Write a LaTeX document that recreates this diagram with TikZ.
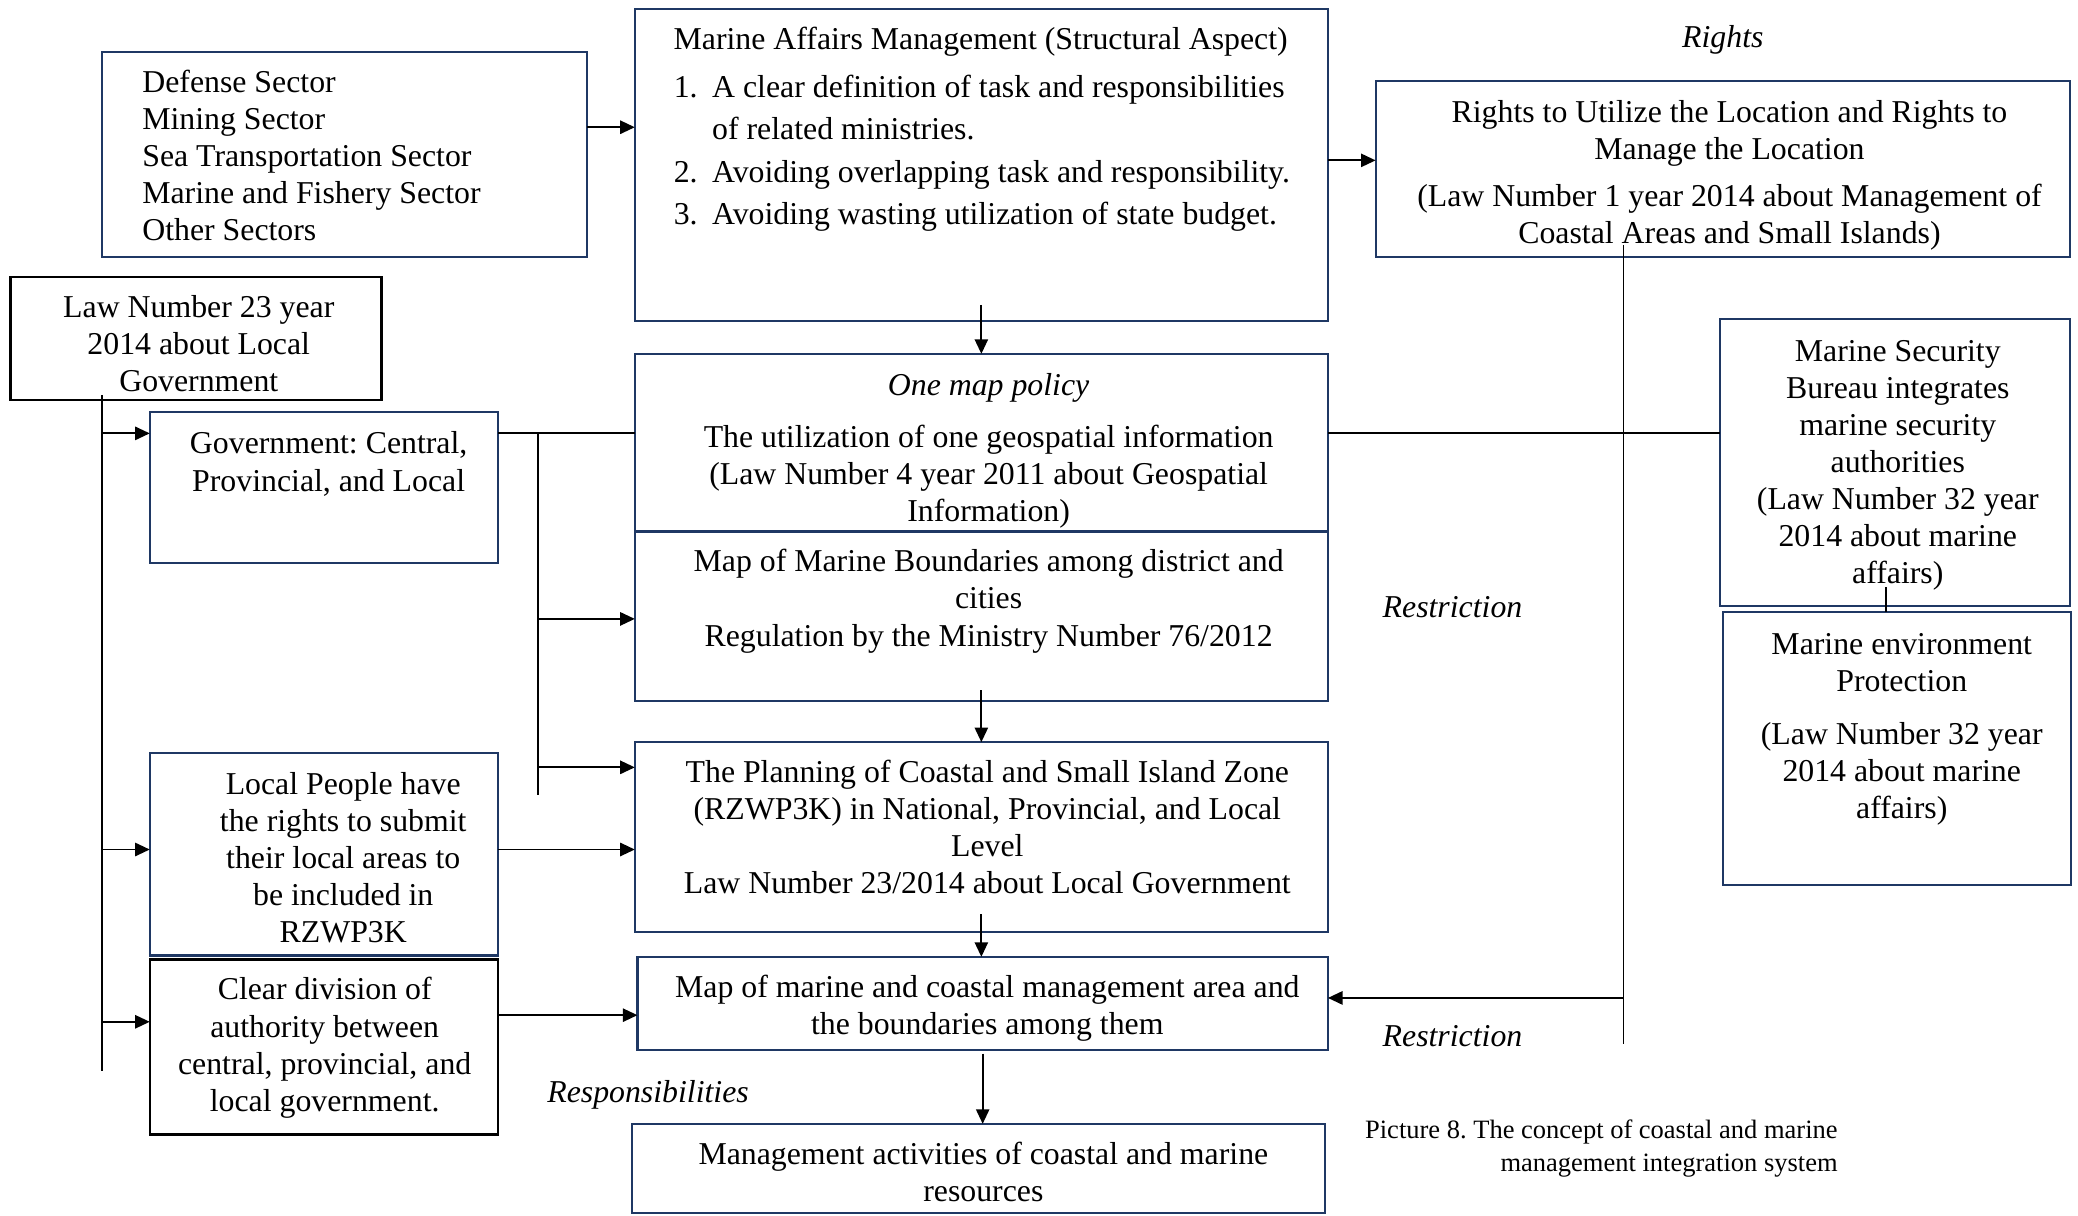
\documentclass[tikz,border=0pt]{standalone}
\usepackage{fontspec}
\setmainfont{Liberation Serif}
\usetikzlibrary{arrows.meta,fit}
\definecolor{bxblue}{RGB}{31,56,100}
\frenchspacing
\begin{document}
\begin{tikzpicture}[x=0.5pt,y=-0.5pt,
  font=\fontsize{12}{14}\selectfont\frenchspacing,
  box/.style={draw=bxblue,line width=0.8pt,inner sep=0pt,outer sep=0pt},
  blk/.style={draw=black,line width=0.9pt,inner sep=0pt,outer sep=0pt},
  txt/.style={anchor=north,align=center,inner sep=0pt},
  ltxt/.style={anchor=north west,align=left,inner sep=0pt},
  lab/.style={font=\fontsize{12}{14}\selectfont\itshape,inner sep=0pt},
  conn/.style={line width=0.7pt},
  arr/.style={conn,-{Triangle[length=5.5pt,width=5pt]}}]
\useasboundingbox (0,0) rectangle (1568,917);
% boxes
\node[box,fit={(77,39) (443,194)}] (sect) {};
\node[box,fit={(479,7) (1002,242)}] (mam) {};
\node[box,fit={(1038,61) (1562,194)}] (rights) {};
\node[blk,fit={(8,209) (288,302)}] (law) {};
\node[box,fit={(113,311) (376,425)}] (gov) {};
\node[box,fit={(479,267) (1002,401)}] (onemap) {};
\node[box,fit={(479,401) (1002,529)}] (mapb) {};
\node[box,fit={(1298,241) (1562,457)}] (msb) {};
\node[box,fit={(1300,462) (1563,668)}] (menv) {};
\node[box,fit={(479,560) (1002,703)}] (plan) {};
\node[box,fit={(113,568) (376,721)}] (local) {};
\node[blk,fit={(113,724) (376,856)}] (clear) {};
\node[box,fit={(481,722) (1002,792)}] (mapc) {};
\node[box,fit={(477,848) (1000,915)}] (mgmt) {};
% texts
\node[ltxt] (tsect) at (107,49.5) {\strut Defense Sector\\Mining Sector\\Sea Transportation Sector\\Marine and Fishery Sector\\Other Sectors};
\node[txt] (tmam) at (740,17.5) {\strut Marine Affairs Management (Structural Aspect)};
\node[ltxt] (tmamlist) at (508,53.5) {\strut\makebox[14.5pt][l]{1.}A clear definition of task and responsibilities\\[2pt]
\hspace*{14.5pt}of related ministries.\\[2pt]
\makebox[14.5pt][l]{2.}Avoiding overlapping task and responsibility.\\[2pt]
\makebox[14.5pt][l]{3.}Avoiding wasting utilization of state budget.};
\node[txt] (trights) at (1305,72.5) {\strut Rights to Utilize the Location and Rights to\\Manage the Location\\[3.5pt](Law Number 1 year 2014 about Management of\\Coastal Areas and Small Islands)};
\node[txt] (tlaw) at (150,219.5) {\strut Law Number 23 year\\2014 about Local\\Government};
\node[txt] (tgov) at (248,322.5) {\strut Government: Central,\\Provincial, and Local};
\node[txt] (tonemap) at (746,278.5) {\strut\textit{One map policy}\\[5.5pt]The utilization of one geospatial information\\(Law Number 4 year 2011 about Geospatial\\Information)};
\node[txt] (tmapb) at (746,411.5) {\strut Map of Marine Boundaries among district and\\cities\\Regulation by the Ministry Number 76/2012};
\node[txt] (tplan) at (745,570.5) {\strut The Planning of Coastal and Small Island Zone\\(RZWP3K) in National, Provincial, and Local\\Level\\Law Number 23/2014 about Local Government};
\node[txt] (tmsb) at (1432,252.5) {\strut Marine Security\\Bureau integrates\\marine security\\authorities\\(Law Number 32 year\\2014 about marine\\affairs)};
\node[txt] (tmenv) at (1435,473.5) {\strut Marine environment\\Protection\\[6pt](Law Number 32 year\\2014 about marine\\affairs)};
\node[txt] (tlocal) at (259,579.5) {\strut Local People have\\the rights to submit\\their local areas to\\be included in\\RZWP3K};
\node[txt] (tclear) at (245,734.5) {\strut Clear division of\\authority between\\central, provincial, and\\local government.};
\node[txt] (tmapc) at (745,732.5) {\strut Map of marine and coastal management area and\\the boundaries among them};
\node[txt] (tmgmt) at (742,858.5) {\strut Management activities of coastal and marine\\resources};
\node[anchor=north east,align=right,inner sep=0pt,font=\fontsize{10}{12.5}\selectfont\frenchspacing] (cap) at (1387,841) {\strut Picture 8. The concept of coastal and marine\\management integration system};
% labels
\node[lab] (lrights) at (1300,30) {Rights};
\node[lab] (lres1) at (1096,458) {Restriction};
\node[lab] (lres2) at (1096,782) {Restriction};
\node[lab] (lresp) at (489,826) {Responsibilities};
% helper coordinates
\coordinate (spineend) at (77,808);
\coordinate (brtop) at (406,327);
\coordinate (brbot) at (406,600);
\coordinate (rbot) at (1225,788);
\coordinate (mx) at (1423,0);
% connectors
\draw[arr] (sect.east |- 0,96) -- (mam.west |- 0,96);
\draw[arr] (mam.east |- 0,121) -- (rights.west |- 0,121);
\draw[arr] ([yshift=6pt]mam.south) -- (onemap.north);
\draw[arr] ([yshift=4pt]mapb.south) -- (plan.north);
\draw[arr] ([yshift=6.5pt]plan.south) -- (plan.south |- mapc.north);
\draw[arr] ([yshift=-1.5pt]mapc.south) -- (mapc.south |- mgmt.north);
\draw[conn] (law.south -| spineend) ++(0,-4) -- (spineend);
\draw[arr] (spineend |- 0,327) -- (gov.west |- 0,327);
\draw[arr] (spineend |- 0,641) -- (local.west |- 0,641);
\draw[arr] (spineend |- 0,771) -- (clear.west |- 0,771);
\draw[conn] (gov.east |- 0,327) -- (onemap.west |- 0,327);
\draw[conn] (brtop) -- (brbot);
\draw[arr] (brtop |- 0,467) -- (mapb.west |- 0,467);
\draw[arr] (brtop |- 0,579) -- (plan.west |- 0,579);
\draw[arr] (local.east |- 0,641) -- (plan.west |- 0,641);
\draw[arr] (clear.east |- 0,766) -- (mapc.west |- 0,766);
\draw[conn] (rights.south -| rbot) ++(0,-9) -- (rbot);
\draw[arr] (rbot |- 0,753) -- (mapc.east |- 0,753);
\draw[conn] (onemap.east |- 0,327) -- (msb.west |- 0,327);
\draw[conn] (msb.south -| mx) ++(0,-14) -- (menv.north -| mx);
\end{tikzpicture}
\end{document}
